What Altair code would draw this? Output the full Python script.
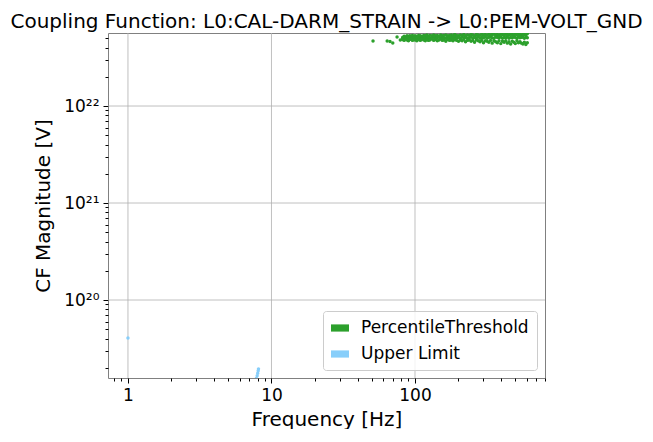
import altair as alt
import pandas as pd

# PercentileThreshold: a few sparse points below 80 Hz, then a dense band (upper/middle/lower rows)
sparse_freq = [51, 64, 67, 70, 75, 79]
sparse_cf = [4.68e22, 4.68e22, 4.62e22, 4.47e22, 5.15e22, 4.80e22]

band_freq = [82, 84, 86, 88, 90, 92, 94, 96, 98, 100,
             103, 106, 109, 112, 115, 118, 121, 124, 127, 131,
             135, 139, 143, 147, 151, 155, 159, 164, 169, 174,
             179, 184, 189, 195, 201, 207, 213, 219, 225, 232,
             239, 246, 253, 260, 268, 276, 284, 292, 300, 309,
             318, 327, 336, 345, 355, 365, 375, 385, 396, 407,
             418, 429, 440, 452, 464, 476, 488, 500, 513, 526,
             539, 552, 565, 578, 592, 606]
band_hi = [5.10, 5.25, 5.15, 5.30, 5.20, 5.30, 5.25, 5.35, 5.20, 5.30,
           5.25, 5.35, 5.30, 5.20, 5.35, 5.30, 5.40, 5.25, 5.35, 5.30,
           5.40, 5.30, 5.35, 5.25, 5.40, 5.30, 5.35, 5.40, 5.30, 5.35,
           5.40, 5.30, 5.45, 5.35, 5.30, 5.40, 5.35, 5.45, 5.30, 5.40,
           5.35, 5.45, 5.40, 5.30, 5.45, 5.40, 5.35, 5.50, 5.40, 5.45,
           5.35, 5.50, 5.40, 5.45, 5.50, 5.40, 5.45, 5.35, 5.50, 5.45,
           5.40, 5.50, 5.45, 5.40, 5.50, 5.45, 5.40, 5.50, 5.45, 5.50,
           5.45, 5.40, 5.50, 5.45, 5.40, 5.55]
band_mid = [5.00, 4.95, 5.05, 5.00, 4.95, 5.10, 5.05, 5.00, 5.10, 5.05,
            5.00, 5.10, 5.05, 4.95, 5.10, 5.00, 5.05, 5.10, 5.00, 5.05,
            5.10, 5.00, 5.05, 5.15, 5.00, 5.10, 5.05, 5.00, 5.15, 5.05,
            5.10, 5.00, 5.15, 5.05, 5.10, 5.00, 5.15, 5.05, 5.10, 5.00,
            5.05, 5.15, 5.00, 5.10, 5.05, 5.15, 5.00, 5.10, 5.05, 5.15,
            5.00, 5.10, 5.15, 5.05, 5.00, 5.15, 5.10, 5.05, 5.15, 5.00,
            5.10, 5.05, 5.15, 5.00, 5.10, 5.05, 5.15, 5.10, 5.00, 5.15,
            5.05, 5.10, 5.15, 5.00, 5.10, 5.05]
band_lo = [4.85, 4.75, 4.90, 4.80, 4.70, 4.85, 4.90, 4.75, 4.85, 4.80,
           4.70, 4.85, 4.75, 4.90, 4.80, 4.70, 4.85, 4.75, 4.80, 4.90,
           4.75, 4.85, 4.70, 4.80, 4.90, 4.75, 4.80, 4.65, 4.85, 4.75,
           4.80, 4.70, 4.85, 4.75, 4.65, 4.80, 4.70, 4.85, 4.60, 4.75,
           4.80, 4.65, 4.75, 4.55, 4.80, 4.70, 4.60, 4.75, 4.50, 4.70,
           4.65, 4.55, 4.75, 4.45, 4.70, 4.60, 4.50, 4.70, 4.40, 4.65,
           4.55, 4.70, 4.45, 4.60, 4.35, 4.65, 4.55, 4.40, 4.70, 4.50,
           4.60, 4.45, 4.35, 4.55, 4.30, 4.50]

# Upper Limit points (mostly below the visible range)
ul_freq = [1.0, 7.85, 7.95, 8.02, 8.08, 8.12]
ul_cf = [4.06e19, 1.55e19, 1.66e19, 1.76e19, 1.87e19, 1.95e19]

x_ticks = [0.8, 0.9] + [d * m for d in [1, 10, 100] for m in range(1, 10)]
y_ticks = [d * m for d in [1e19, 1e20, 1e21, 1e22] for m in range(1, 10)]
y_ticks = [v for v in y_ticks if 1.6e19 <= v <= 5.6e22]
x_major = [1, 10, 100]
y_major = [1e20, 1e21, 1e22]

pt = pd.DataFrame({
    "freq": sparse_freq + band_freq * 3,
    "cf": sparse_cf + [v * 1e22 for v in band_hi + band_mid + band_lo],
})
pt["kind"] = "PercentileThreshold"
ul = pd.DataFrame({"freq": ul_freq, "cf": ul_cf, "kind": "Upper Limit"})
df = pd.concat([ul, pt])

xdom = [0.726, 805]
ydom = [1.57e19, 5.66e22]
is_major = "abs(log(datum.value)/LN10 - round(log(datum.value)/LN10)) < 1e-6"

xs = alt.Scale(type="log", domain=xdom, nice=False)
ys = alt.Scale(type="log", domain=ydom, nice=False)

xgrid = alt.Chart(pd.DataFrame({"v": x_major})).mark_rule(
    color="#b0b0b0", strokeWidth=0.8).encode(x=alt.X("v:Q", scale=xs))
ygrid = alt.Chart(pd.DataFrame({"v": y_major})).mark_rule(
    color="#b0b0b0", strokeWidth=0.8).encode(y=alt.Y("v:Q", scale=ys))

pts = alt.Chart(df).mark_circle(size=12, opacity=1, clip=True).encode(
    x=alt.X("freq:Q", scale=xs, title="Frequency [Hz]",
            axis=alt.Axis(values=x_ticks, grid=False, labelPadding=4, titlePadding=6,
                          labelExpr="datum.value == 1 ? '1' : datum.value == 10 ? '10' : datum.value == 100 ? '100' : ''",
                          tickSize={"condition": {"test": is_major, "value": 5}, "value": 3})),
    y=alt.Y("cf:Q", scale=ys, title="CF Magnitude [V]",
            axis=alt.Axis(values=y_ticks, grid=False, labelPadding=4, titlePadding=10,
                          labelExpr="datum.value == 1e20 ? '10²⁰' : datum.value == 1e21 ? '10²¹' : datum.value == 1e22 ? '10²²' : ''",
                          tickSize={"condition": {"test": is_major, "value": 5}, "value": 3})),
    color=alt.Color("kind:N", title=None,
                    scale=alt.Scale(domain=["PercentileThreshold", "Upper Limit"],
                                    range=["#2ca02c", "#87cefa"]),
                    legend=alt.Legend(orient="bottom-right", offset=8, padding=8,
                                      strokeColor="#cccccc", fillColor="rgba(255,255,255,0.8)",
                                      cornerRadius=3, labelFontSize=17, labelColor="#000",
                                      labelLimit=400,
                                      symbolType="M-1,-0.4L1,-0.4L1,0.4L-1,0.4Z",
                                      symbolSize=324, symbolStrokeWidth=0, symbolOpacity=1,
                                      rowPadding=9, labelOffset=12)),
    order=alt.Order("kind:N", sort="descending"),
)

chart = (xgrid + ygrid + pts).properties(
    width=437, height=345,
    padding={"left": 2, "top": 3, "right": 0, "bottom": 0},
    title=alt.Title("Coupling Function: L0:CAL-DARM_STRAIN -> L0:PEM-VOLT_GND",
                    fontSize=20, fontWeight="normal", font="DejaVu Sans", color="#000",
                    offset=1, frame="group", anchor="middle"),
).configure(font="DejaVu Sans").configure_view(
    stroke="#808080", strokeWidth=1
).configure_axis(
    domain=False, labelFontSize=17, labelColor="#000", titleFontSize=20,
    titleFontWeight="normal", titleColor="#000", tickColor="#000",
    labelFont="DejaVu Sans", titleFont="DejaVu Sans",
).configure_legend(labelFont="DejaVu Sans")

chart.save("out.html", embed_options={"renderer": "svg", "actions": False})
